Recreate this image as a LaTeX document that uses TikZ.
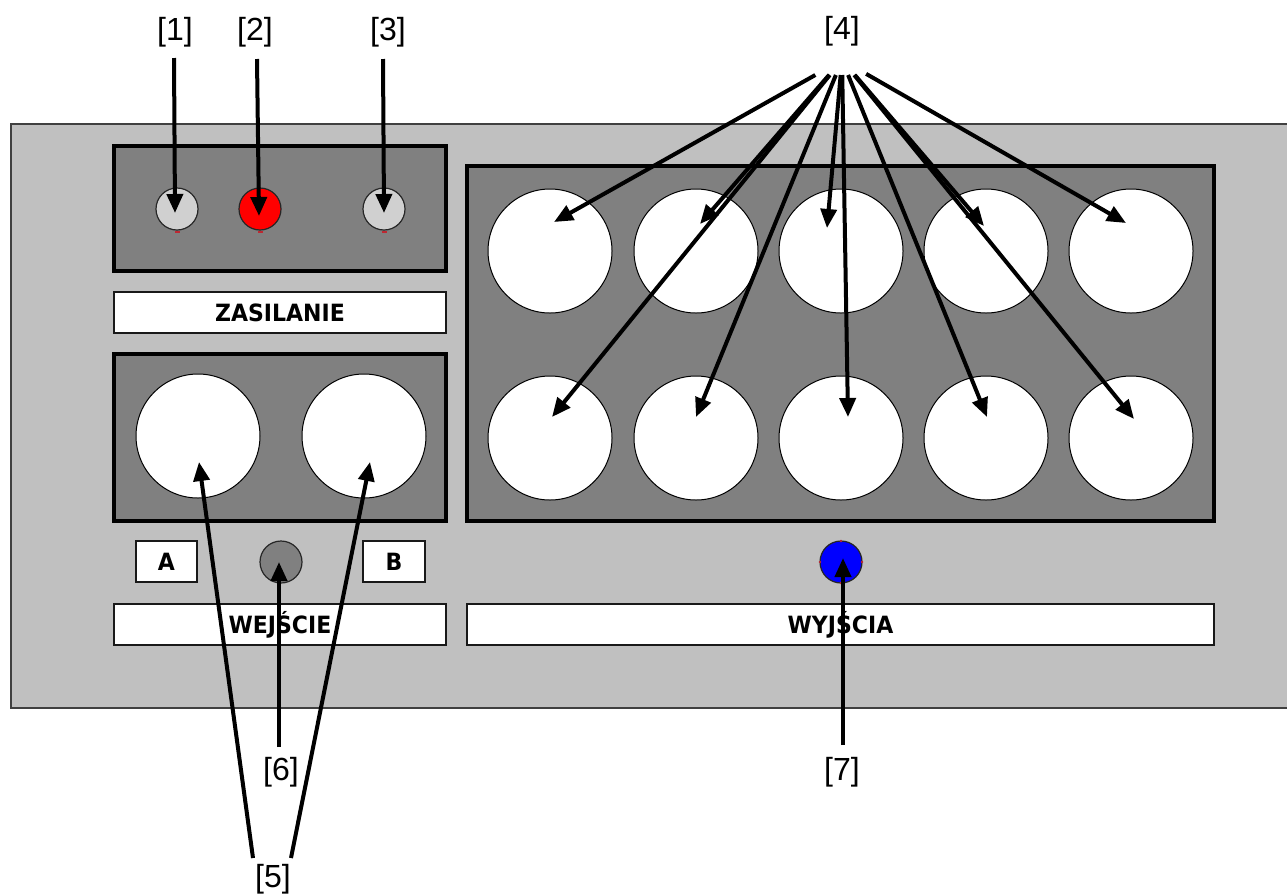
\documentclass[tikz,border=0pt]{standalone}
\usepackage{fontspec}
\setmainfont{Liberation Sans}
\newfontfamily\panelfont{DejaVu Sans}
\usetikzlibrary{arrows.meta,calc}

\definecolor{casegray}{RGB}{192,192,192}
\definecolor{wellgray}{RGB}{128,128,128}
\definecolor{lampgray}{RGB}{208,208,208}
\definecolor{knobgray}{RGB}{128,128,128}
\definecolor{lampred}{RGB}{255,0,0}
\definecolor{lampblue}{RGB}{0,0,255}
\definecolor{handle}{RGB}{190,40,50}

\begin{document}
\begin{tikzpicture}[x=1pt,y=-1pt,
  arr/.style={line width=4pt, -{Triangle[length=19pt,width=16pt]}},
  well/.style={draw=black, line width=4pt, fill=wellgray},
  hole/.style={circle, draw=black, line width=1pt, fill=white, minimum size=124pt, inner sep=0pt},
  lamp/.style={circle, draw=black!85, line width=1.2pt, minimum size=42pt, inner sep=0pt},
  tag/.style={draw=black!90, line width=1.5pt, fill=white, inner sep=0pt,
    font=\panelfont\bfseries\fontsize{22}{22}\selectfont},
  num/.style={inner sep=0pt, font=\fontsize{32}{32}\selectfont},
  handletick/.style={handle, line width=2pt}
]
\path[use as bounding box] (0,0) rectangle (1287,895);
\fill[white] (0,0) rectangle (1287,895);

% instrument case (runs off the right edge)
\begin{scope}
  \clip (0,0) rectangle (1287,895);
  \draw[fill=casegray, draw=black!75, line width=2pt] (11,124) rectangle (1300,708);
\end{scope}

% recessed wells
\draw[well] (114,146) rectangle (446,271);
\draw[well] (114,354) rectangle (446,521);
\draw[well] (467,166) rectangle (1214,521);

% power indicators
\node[lamp, fill=lampgray] (pw1) at (177,209) {};
\node[lamp, fill=lampred]  (pw2) at (260,209) {};
\node[lamp, fill=lampgray] (pw3) at (384,209) {};
\foreach \x in {177,260,384} \draw[handletick] (\x-2,231.5) -- (\x+3,231.5);

% input sockets
\node[hole] (inA) at (198,436) {};
\node[hole] (inB) at (364,436) {};

% output sockets
\foreach \x [count=\i] in {550,696,841,986,1131} {
  \node[hole] (o\i) at (\x,251) {};
  \pgfmathtruncatemacro{\j}{\i+5}
  \node[hole] (o\j) at (\x,438) {};
}

% selector knob and output lamp
\node[lamp, fill=knobgray] (knob) at (281,562) {};
\node[lamp, fill=lampblue] (outlamp) at (841,562) {};
\foreach \a in {0,90,180,270}
  \fill[handle] ($(outlamp.center)+(\a:21)$) circle (1.3);

% labelled plates
\node[tag, minimum width=332pt, minimum height=41pt] (zas) at (280,312.5) {\scalebox{1}[1.08]{ZASILANIE}};
\node[tag, minimum width=61pt, minimum height=41pt] (ta) at (166.5,561.5) {\scalebox{1}[1.08]{A}};
\node[tag, minimum width=62pt, minimum height=41pt] (tb) at (394,561.5) {\scalebox{1}[1.08]{B}};
\node[tag, minimum width=332pt, minimum height=41pt] (wej) at (280,624.5) {\scalebox{1}[1.08]{WEJŚCIE}};
\node[tag, minimum width=747pt, minimum height=41pt] (wyj) at (840.5,624.5) {\scalebox{1}[1.08]{WYJŚCIA}};

% callout numbers
\node[num] (n1) at (175,32) {[1]};
\node[num] (n2) at (255,32) {[2]};
\node[num] (n3) at (388,32) {[3]};
\node[num] (n4) at (842,31) {[4]};
\node[num] (n5) at (273,879) {[5]};
\node[num] (n6) at (281,772) {[6]};
\node[num] (n7) at (842,772) {[7]};

% callout leaders
\coordinate (s1) at (174,58);
\coordinate (s2) at (257,59);
\coordinate (s3) at (383,59);
\coordinate (t1) at (175,213);
\coordinate (t2) at (259,216);
\coordinate (t3) at (384,213);
\draw[arr] (s1) -- (t1);
\draw[arr] (s2) -- (t2);
\draw[arr] (s3) -- (t3);

\coordinate (hub) at (842,60);
\coordinate (p1) at (554,222);
\coordinate (p2) at (700,224);
\coordinate (p3) at (827,228);
\coordinate (p4) at (984,226);
\coordinate (p5) at (1126,223);
\coordinate (p6) at (552,417);
\coordinate (p7) at (696,417);
\coordinate (p8) at (848,417);
\coordinate (p9) at (987,417);
\coordinate (p10) at (1134,419);
\foreach \k/\f in {1/0.0926,2/0.0915,3/0.0893,4/0.0904,5/0.085,
                   6/0.042,7/0.042,8/0.042,9/0.042,10/0.0418}
  \draw[arr] ($(hub)!\f!(p\k)$) -- (p\k);

\coordinate (s5a) at (253,858);
\coordinate (s5b) at (291,858);
\coordinate (t5a) at (199,462);
\coordinate (t5b) at (370,462);
\draw[arr] (s5a) -- (t5a);
\draw[arr] (s5b) -- (t5b);

\coordinate (s6) at (279,747);
\coordinate (t6) at (279,562);
\draw[arr] (s6) -- (t6);

\coordinate (s7) at (843,745);
\coordinate (t7) at (843,558);
\draw[arr] (s7) -- (t7);
\end{tikzpicture}
\end{document}
